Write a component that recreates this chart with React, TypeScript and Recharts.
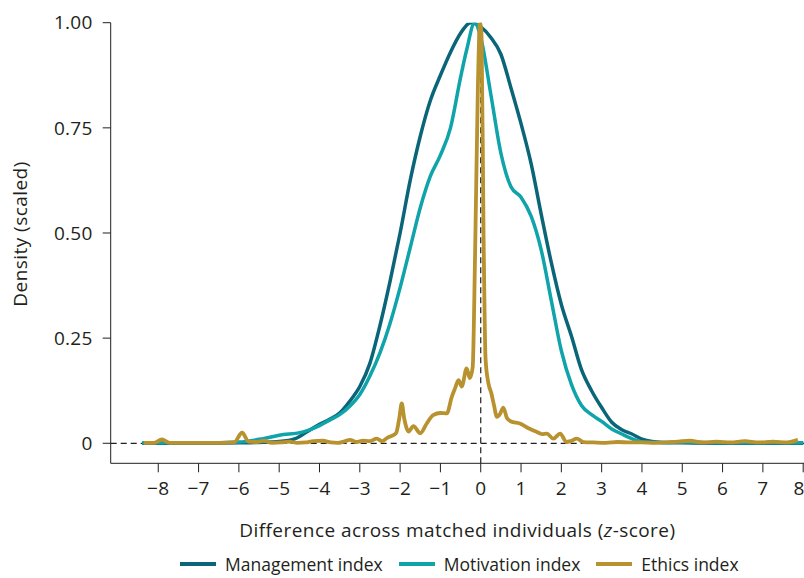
import { CSSProperties } from "react";
import { LineChart, Line, XAxis, YAxis, ReferenceLine } from "recharts";

// x positions (z-score) and scaled density
const mgmtX = [-8.4, -7, -6, -5.5, -5, -4.6, -4.3, -4.0, -3.75, -3.5, -3.25, -3.0, -2.75, -2.5, -2.25, -2.0, -1.75, -1.5, -1.25, -1.0, -0.75, -0.5, -0.25, 0, 0.25, 0.5, 0.75, 1.0, 1.25, 1.5, 1.75, 2.0, 2.25, 2.5, 2.75, 3.0, 3.25, 3.5, 3.75, 4.0, 4.25, 4.5, 5, 6, 7, 8];
const mgmtY = [0, 0, 0.001, 0.002, 0.004, 0.011, 0.028, 0.045, 0.057, 0.072, 0.1, 0.135, 0.19, 0.28, 0.385, 0.5, 0.625, 0.73, 0.815, 0.875, 0.93, 0.975, 1.0, 0.99, 0.965, 0.925, 0.845, 0.76, 0.665, 0.545, 0.43, 0.33, 0.255, 0.175, 0.125, 0.085, 0.05, 0.032, 0.022, 0.01, 0.004, 0.002, 0.001, 0, 0, 0];

const motivX = [-8.4, -7, -6, -5.4, -5, -4.4, -4.0, -3.75, -3.5, -3.25, -3.0, -2.75, -2.5, -2.25, -2.0, -1.75, -1.5, -1.25, -1.0, -0.75, -0.5, -0.35, -0.15, 0, 0.25, 0.5, 0.75, 1.0, 1.25, 1.5, 1.75, 2.0, 2.25, 2.5, 2.75, 3.0, 3.25, 3.5, 3.75, 4.0, 4.5, 5, 6, 7, 8];
const motivY = [0.001, 0.001, 0.003, 0.011, 0.019, 0.027, 0.042, 0.055, 0.068, 0.088, 0.116, 0.16, 0.215, 0.285, 0.37, 0.465, 0.56, 0.635, 0.685, 0.75, 0.87, 0.935, 1.0, 0.965, 0.83, 0.69, 0.61, 0.585, 0.54, 0.46, 0.34, 0.22, 0.14, 0.09, 0.068, 0.052, 0.034, 0.022, 0.011, 0.003, 0.002, 0.003, 0.001, 0.001, 0.001];

const ethicsX = [-8.36, -8.1, -7.91, -7.72, -7.3, -6.8, -6.4, -6.12, -5.92, -5.76, -5.55, -5.38, -5.18, -4.95, -4.75, -4.55, -4.35, -4.15, -3.92, -3.72, -3.55, -3.4, -3.24, -3.08, -2.92, -2.75, -2.58, -2.45, -2.32, -2.2, -2.1, -2.02, -1.96, -1.9, -1.79, -1.67, -1.5, -1.34, -1.18, -1.0, -0.84, -0.72, -0.64, -0.55, -0.47, -0.35, -0.27, -0.2, -0.14, -0.07, -0.02, 0.02, 0.07, 0.12, 0.19, 0.26, 0.33, 0.4, 0.48, 0.56, 0.65, 0.75, 0.97, 1.2, 1.39, 1.52, 1.64, 1.8, 1.97, 2.13, 2.25, 2.38, 2.55, 2.8, 3.1, 3.4, 3.7, 4.0, 4.3, 4.6, 4.9, 5.19, 5.5, 5.85, 6.2, 6.55, 6.9, 7.25, 7.6, 7.87];
const ethicsY = [0.001, 0.001, 0.009, 0.001, 0.001, 0.001, 0.001, 0.002, 0.025, 0.004, 0.003, 0.006, 0.001, 0.002, 0.004, 0.001, 0.002, 0.005, 0.006, 0.002, 0.001, 0.004, 0.008, 0.003, 0.006, 0.005, 0.011, 0.005, 0.013, 0.018, 0.024, 0.06, 0.095, 0.06, 0.028, 0.041, 0.024, 0.047, 0.067, 0.072, 0.071, 0.11, 0.13, 0.15, 0.135, 0.178, 0.155, 0.18, 0.45, 0.85, 1.0, 0.97, 0.5, 0.2, 0.143, 0.12, 0.09, 0.063, 0.07, 0.085, 0.06, 0.052, 0.047, 0.035, 0.027, 0.022, 0.023, 0.011, 0.023, 0.003, 0.006, 0.011, 0.003, 0.002, 0.001, 0.003, 0.002, 0.002, 0.001, 0.002, 0.004, 0.006, 0.002, 0.004, 0.002, 0.005, 0.002, 0.004, 0.002, 0.008];

const xTicks = [-8, -7, -6, -5, -4, -3, -2, -1, 0, 1, 2, 3, 4, 5, 6, 7, 8];
const yTicks = [0, 0.25, 0.5, 0.75, 1];

const MGMT = "#0a6578";
const MOTIV = "#0fa3aa";
const ETHICS = "#b8922f";
const TEXT = "#231f20";
const FONT = "'Open Sans', sans-serif";

const mgmtData = mgmtX.map((x, i) => ({ x, y: mgmtY[i] }));
const motivData = motivX.map((x, i) => ({ x, y: motivY[i] }));
const ethicsData = ethicsX.map((x, i) => ({ x, y: ethicsY[i] }));

const legendItems = [
  { label: "Management index", color: MGMT },
  { label: "Motivation index", color: MOTIV },
  { label: "Ethics index", color: ETHICS },
];

function XLabel({ viewBox }: any) {
  const cx = viewBox.x + viewBox.width / 2;
  return (
    <text
      x={cx}
      y={viewBox.y + 73.4}
      textAnchor="middle"
      fill={TEXT}
      fontSize={19}
      letterSpacing={0.45}
      fontFamily={FONT}
    >
      Difference across matched individuals (<tspan fontStyle="italic">z</tspan>-score)
    </text>
  );
}

function YLabel() {
  return (
    <text
      x={27}
      y={234}
      transform="rotate(-90, 27, 234)"
      textAnchor="middle"
      fill={TEXT}
      fontSize={19}
      letterSpacing={0.45}
      fontFamily={FONT}
    >
      Density (scaled)
    </text>
  );
}

export default function App() {
  const wrap: CSSProperties = {
    position: "absolute",
    left: 0,
    top: 0,
    width: 804,
    height: 578,
    background: "#fff",
    overflow: "hidden",
  };

  const legendStyle: CSSProperties = {
    position: "absolute",
    left: 180,
    top: 553,
    display: "flex",
    alignItems: "center",
    fontFamily: FONT,
    fontSize: 17.5,
    color: TEXT,
    whiteSpace: "nowrap",
    lineHeight: "22px",
  };

  const tick = { fill: TEXT, fontSize: 19, fontFamily: FONT, letterSpacing: 0.3 };

  return (
    <div style={wrap}>
      <LineChart
        width={804}
        height={578}
        margin={{ top: 22.7, right: 0, bottom: 74.7, left: 0 }}
      >
        <XAxis
          dataKey="x"
          type="number"
          domain={[-9.18, 8.02]}
          ticks={xTicks}
          allowDataOverflow
          tickFormatter={(v: number) => (v < 0 ? "\u2212" + Math.abs(v) : String(v))}
          tick={tick}
          tickSize={9}
          tickMargin={9}
          height={40}
          stroke={TEXT}
          tickLine={{ stroke: TEXT }}
          label={<XLabel />}
        />
        <YAxis
          type="number"
          domain={[-0.0476, 1]}
          ticks={yTicks}
          allowDataOverflow
          tickFormatter={(v: number) => (v === 0 ? "0" : v.toFixed(2))}
          tick={tick}
          tickSize={8}
          tickMargin={10}
          width={110.7}
          stroke={TEXT}
          label={<YLabel />}
        />
        <ReferenceLine y={0} stroke={TEXT} strokeWidth={1.2} strokeDasharray="6 4" />
        <ReferenceLine x={0} stroke={TEXT} strokeWidth={1.2} strokeDasharray="6 4" />
        <Line
          data={mgmtData}
          dataKey="y"
          type="monotone"
          stroke={MGMT}
          strokeWidth={3.5}
          dot={false}
          activeDot={false}
          isAnimationActive={false}
        />
        <Line
          data={motivData}
          dataKey="y"
          type="monotone"
          stroke={MOTIV}
          strokeWidth={3.5}
          dot={false}
          activeDot={false}
          isAnimationActive={false}
        />
        <Line
          data={ethicsData}
          dataKey="y"
          type="monotone"
          stroke={ETHICS}
          strokeWidth={3.8}
          dot={false}
          activeDot={false}
          isAnimationActive={false}
        />
      </LineChart>
      <div style={legendStyle}>
        {legendItems.map((it) => (
          <div key={it.label} style={{ display: "flex", alignItems: "center", marginRight: 16 }}>
            <span style={{ display: "inline-block", width: 36, height: 4, background: it.color, marginRight: 9 }} />
            <span>{it.label}</span>
          </div>
        ))}
      </div>
    </div>
  );
}
